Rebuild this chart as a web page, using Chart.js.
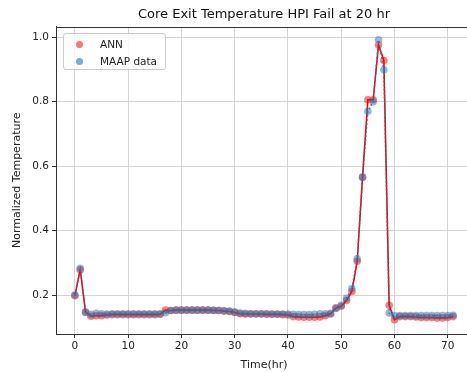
<!DOCTYPE html>
<html>
<head>
<meta charset="utf-8">
<script src="https://cdn.jsdelivr.net/npm/chart.js@4.4.0/dist/chart.umd.min.js"></script>
<style>
  html, body { margin: 0; padding: 0; background: #fff; overflow: hidden; }
  #wrap { position: relative; width: 467px; height: 372px; overflow: hidden; }
  canvas { position: absolute; left: 0; top: 0; }
  #legend { position: absolute; left: 63px; top: 33px; width: 103px; height: 37px;
    border: 1px solid #cccccc; border-radius: 3px; background: rgba(255,255,255,0.8);
    font-family: "DejaVu Sans", sans-serif; font-size: 10.5px; color: #222; box-sizing: border-box; }
  .item { position: absolute; left: 0; height: 14px; line-height: 14px; }
  .dot { position: absolute; left: 12px; top: 3.5px; width: 7px; height: 7px; border-radius: 50%; }
  .lbl { position: absolute; left: 36px; top: 0; white-space: nowrap; }
</style>
</head>
<body>
<div id="wrap">
  <canvas id="c" width="500" height="372"></canvas>
  <div id="legend">
    <div class="item" style="top:3px"><span class="dot" style="background:rgba(255,0,0,0.55)"></span><span class="lbl">ANN</span></div>
    <div class="item" style="top:20px"><span class="dot" style="background:rgba(31,119,180,0.6)"></span><span class="lbl">MAAP data</span></div>
  </div>
</div>
<script>
const hours = [0,1,2,3,4,5,6,7,8,9,10,11,12,13,14,15,16,17,18,19,20,21,22,23,24,25,26,27,28,29,30,31,32,33,34,35,36,37,38,39,40,41,42,43,44,45,46,47,48,49,50,51,52,53,54,55,56,57,58,59,60,61,62,63,64,65,66,67,68,69,70,71];

const maapData = [0.200,0.283,0.146,0.140,0.143,0.142,0.141,0.142,0.142,0.142,0.142,0.142,0.142,0.142,0.142,0.142,0.142,0.145,0.152,0.153,0.153,0.153,0.153,0.153,0.153,0.153,0.153,0.152,0.151,0.150,0.147,0.144,0.143,0.142,0.142,0.142,0.142,0.141,0.141,0.141,0.141,0.140,0.139,0.139,0.139,0.140,0.142,0.142,0.143,0.158,0.168,0.190,0.220,0.312,0.565,0.770,0.800,0.992,0.899,0.144,0.136,0.136,0.136,0.136,0.136,0.136,0.136,0.136,0.136,0.136,0.136,0.137];

const annData = [0.198,0.278,0.147,0.134,0.136,0.136,0.138,0.139,0.139,0.139,0.139,0.139,0.139,0.139,0.139,0.139,0.140,0.153,0.152,0.153,0.153,0.153,0.153,0.153,0.153,0.153,0.152,0.152,0.150,0.149,0.146,0.142,0.141,0.141,0.141,0.141,0.140,0.140,0.140,0.139,0.138,0.133,0.132,0.131,0.131,0.131,0.132,0.136,0.141,0.160,0.165,0.183,0.211,0.305,0.566,0.806,0.806,0.976,0.928,0.168,0.123,0.133,0.133,0.133,0.132,0.130,0.130,0.130,0.129,0.129,0.130,0.133];

const xTicks = [0,10,20,30,40,50,60,70];
const yTicks = [0.2,0.4,0.6,0.8,1.0];

const topSpine = {
  id: 'topSpine',
  afterDraw(chart) {
    const a = chart.chartArea, ctx = chart.ctx;
    ctx.save();
    ctx.strokeStyle = '#333';
    ctx.lineWidth = 1;
    ctx.beginPath();
    ctx.moveTo(a.left, Math.round(a.top) + 0.5);
    ctx.lineTo(a.right, Math.round(a.top) + 0.5);
    ctx.stroke();
    ctx.restore();
  }
};

const font = { family: '"DejaVu Sans", sans-serif', size: 10.5 };
const axisFont = { family: '"DejaVu Sans", sans-serif', size: 11 };

new Chart(document.getElementById('c'), {
  type: 'line',
  data: {
    datasets: [
      {
        label: 'ANN',
        data: hours.map((h, i) => ({ x: h, y: annData[i] })),
        borderColor: '#ff0000',
        borderWidth: 1.6,
        pointRadius: 3.8,
        pointBorderWidth: 0,
        pointBackgroundColor: 'rgba(255,0,0,0.5)',
        tension: 0,
        order: 2
      },
      {
        label: 'MAAP data',
        data: hours.map((h, i) => ({ x: h, y: maapData[i] })),
        borderColor: '#1f77b4',
        borderWidth: 1.5,
        borderDash: [1.5, 2.5],
        pointRadius: 3.8,
        pointBorderWidth: 0,
        pointBackgroundColor: 'rgba(31,119,180,0.5)',
        tension: 0,
        order: 1
      }
    ]
  },
  options: {
    responsive: false,
    animation: false,
    events: [],
    layout: { padding: { left: 0, right: 28, top: 0, bottom: 0 } },
    plugins: {
      legend: { display: false },
      tooltip: { enabled: false },
      title: {
        display: true,
        text: 'Core Exit Temperature HPI Fail at 20 hr',
        color: '#111',
        fullSize: false,
        font: { family: '"DejaVu Sans", sans-serif', size: 13, weight: 'normal', lineHeight: 1.2 },
        padding: { top: 7, bottom: 4 }
      }
    },
    scales: {
      x: {
        type: 'linear',
        min: -3.55,
        max: 74.55,
        afterBuildTicks(s) { s.ticks = xTicks.map(v => ({ value: v })); },
        afterFit(s) { s.height = 38; },
        ticks: { color: '#222', font, padding: 2, maxRotation: 0, callback: v => String(v) },
        grid: { color: '#d4d4d4', lineWidth: 1, tickLength: 4, tickColor: '#333' },
        border: { color: '#333', width: 1 },
        title: { display: true, text: 'Time(hr)', color: '#222', font: axisFont, padding: { top: 1, bottom: 0 } }
      },
      y: {
        type: 'linear',
        min: 0.079,
        max: 1.033,
        afterBuildTicks(s) { s.ticks = yTicks.map(v => ({ value: v })); },
        afterFit(s) { s.width = 56; },
        ticks: { color: '#222', font, padding: 3, callback: v => v.toFixed(1) },
        grid: { color: '#d4d4d4', lineWidth: 1, tickLength: 4, tickColor: '#333' },
        border: { color: '#333', width: 1 },
        title: { display: true, text: 'Normalized Temperature', color: '#222', font: axisFont, padding: { top: 11, bottom: 0 } }
      }
    }
  },
  plugins: [topSpine]
});
</script>
</body>
</html>
